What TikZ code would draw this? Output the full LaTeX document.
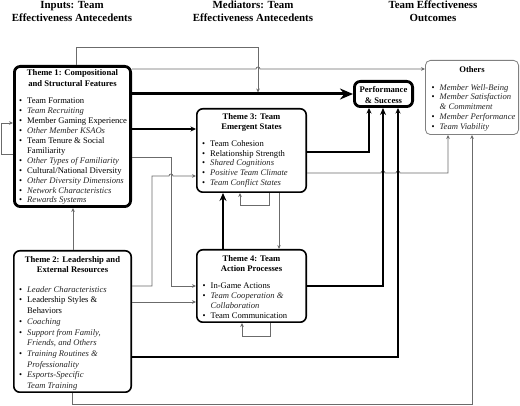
\documentclass[tikz,border=0pt]{standalone}
\usepackage{fontspec}
\setmainfont{Liberation Serif}
\usetikzlibrary{arrows.meta}
\newcommand{\bt}{\makebox[8pt][l]{\textbullet}}
\newcommand{\itx}[1]{\textcolor{black!85}{\itshape #1}}
\newcommand{\fsz}[2]{\fontsize{#1}{#2}\selectfont}
\begin{document}
\begin{tikzpicture}[x=1pt,y=-1pt,
  box/.style={draw, rounded corners=6pt, inner sep=0pt, line width=1.6pt},
  thickbox/.style={draw, rounded corners=6pt, inner sep=0pt, line width=2.8pt},
  obox/.style={draw=black!50, rounded corners=5pt, inner sep=0pt, line width=0.8pt},
  tx/.style={inner sep=0pt},
  gl/.style={draw=black!58, line width=0.8pt, -{Stealth[length=4pt,width=3.6pt]}},
  glt/.style={draw=black!58, line width=0.6pt, -{Stealth[length=4pt,width=3.4pt]}},
  bl/.style={draw=black, line width=1.3pt, -{Stealth[length=5.5pt,width=5pt]}},
  bm/.style={draw=black, line width=2pt, -{Stealth[length=7pt,width=6pt]}},
  bt4/.style={draw=black, line width=2.5pt, -{Stealth[length=8pt,width=7pt]}},
  bbig/.style={draw=black, line width=3pt, -{Stealth[length=13pt,width=11pt]}}
]
\useasboundingbox (0,0) rectangle (520,406);
\fill[white] (0,0) rectangle (520,406);

% headers
\node[tx, anchor=base, font=\fsz{10.9}{13}\bfseries] (h1) at (72,9) {\begin{tabular}[t]{@{}c@{}}Inputs: Team\\Effectiveness Antecedents\end{tabular}};
\node[tx, anchor=base, font=\fsz{10.9}{13}\bfseries] (h2) at (253,9) {\begin{tabular}[t]{@{}c@{}}Mediators: Team\\Effectiveness Antecedents\end{tabular}};
\node[tx, anchor=base, font=\fsz{10.9}{13}\bfseries] (h3) at (433,9) {\begin{tabular}[t]{@{}c@{}}Team Effectiveness\\Outcomes\end{tabular}};

% boxes
\node[thickbox, minimum width=116.2pt, minimum height=140.2pt] (t1) at (72.5,136.5) {};
\node[box, minimum width=117.4pt, minimum height=141.4pt] (t2) at (72.5,321.5) {};
\node[box, minimum width=109.4pt, minimum height=83.4pt] (t3) at (251.5,150.5) {};
\node[box, minimum width=109.4pt, minimum height=72.4pt] (t4) at (251.5,286) {};
\node[thickbox, minimum width=58.2pt, minimum height=25.2pt] (ps) at (383.5,94) {};
\node[obox, minimum width=93.2pt, minimum height=74.2pt] (ot) at (472,97.5) {};

% Theme 1 text
\node[tx, anchor=base, font=\fsz{8.6}{11}\bfseries] (t1h) at (72.5,76) {\begin{tabular}[t]{@{}c@{}}Theme 1: Compositional\\and Structural Features\end{tabular}};
\node[tx, anchor=base west, font=\fsz{8.6}{9.9}] (t1l) at (19,104) {\begin{tabular}[t]{@{}l@{}l@{}}
\bt&Team Formation\\
\bt&\itx{Team Recruiting}\\
\bt&Member Gaming Experience\\
\bt&\itx{Other Member KSAOs}\\
\bt&Team Tenure \& Social\\
&Familiarity\\
\bt&\itx{Other Types of Familiarity}\\
\bt&Cultural/National Diversity\\
\bt&\itx{Other Diversity Dimensions}\\
\bt&\itx{Network Characteristics}\\
\bt&\itx{Rewards Systems}
\end{tabular}};

% Theme 2 text
\node[tx, anchor=base, font=\fsz{8.6}{10.7}\bfseries] (t2h) at (72.5,262.3) {\begin{tabular}[t]{@{}c@{}}Theme 2: Leadership and\\External Resources\end{tabular}};
\node[tx, anchor=base west, font=\fsz{8.6}{10.7}] (t2l) at (19,292.3) {\begin{tabular}[t]{@{}l@{}l@{}}
\bt&\itx{Leader Characteristics}\\
\bt&Leadership Styles \&\\
&Behaviors\\
\bt&\itx{Coaching}\\
\bt&\itx{Support from Family,}\\
&\itx{Friends, and Others}\\
\bt&\itx{Training Routines \&}\\
&\itx{Professionality}\\
\bt&\itx{Esports-Specific}\\
&\itx{Team Training}
\end{tabular}};

% Theme 3 text
\node[tx, anchor=base, font=\fsz{8.6}{10}\bfseries] (t3h) at (251.5,119.7) {\begin{tabular}[t]{@{}c@{}}Theme 3: Team\\Emergent States\end{tabular}};
\node[tx, anchor=base west, font=\fsz{8.6}{9.85}] (t3l) at (202,146.3) {\begin{tabular}[t]{@{}l@{}l@{}}
\bt&Team Cohesion\\
\bt&Relationship Strength\\
\bt&\itx{Shared Cognitions}\\
\bt&\itx{Positive Team Climate}\\
\bt&\itx{Team Conflict States}
\end{tabular}};

% Theme 4 text
\node[tx, anchor=base, font=\fsz{8.6}{10}\bfseries] (t4h) at (251.5,262) {\begin{tabular}[t]{@{}c@{}}Theme 4: Team\\Action Processes\end{tabular}};
\node[tx, anchor=base west, font=\fsz{8.6}{9.8}] (t4l) at (202.5,288.7) {\begin{tabular}[t]{@{}l@{}l@{}}
\bt&In-Game Actions\\
\bt&\itx{Team Cooperation \&}\\
&\itx{Collaboration}\\
\bt&Team Communication
\end{tabular}};

% Performance text
\node[tx, anchor=base, font=\fsz{8.6}{10.5}\bfseries] (psh) at (383.5,93) {\begin{tabular}[t]{@{}c@{}}Performance\\\& Success\end{tabular}};

% Others text
\node[tx, anchor=base, font=\fsz{8.6}{10}\bfseries] (oth) at (472,73) {Others};
\node[tx, anchor=base west, font=\fsz{8.6}{9.7}] (otl) at (431.5,90.3) {\begin{tabular}[t]{@{}l@{}l@{}}
\bt&\itx{Member Well-Being}\\
\bt&\itx{Member Satisfaction}\\
&\itx{\& Commitment}\\
\bt&\itx{Member Performance}\\
\bt&\itx{Team Viability}
\end{tabular}};

\coordinate (m1) at (258,92.5);

% gray connectors
\draw[gl] (t1.north -| 76,0) |- (258,47) -- (m1);
\draw[gl] (t1.east |- 0,69) -- (256,69) arc[start angle=180,end angle=360,radius=2] -- (ot.west |- 0,69);
\draw[gl] (t1.east |- 0,157) -- (171,157) |- (t4.west |- 0,286);
\draw[gl] (t2.east |- 0,286) -- (152,286) |- (169,176) arc[start angle=180,end angle=360,radius=2] -- (t3.west |- 0,176);
\draw[gl] (t2.east |- 0,302) -- (t4.west |- 0,302);
\draw[gl] (t2.south) |- (472,404.5) -- (ot.south -| 472,0);
\draw[gl] (t2.north -| 73,0) -- (t1.south -| 73,0);
\draw[gl] (t3.east |- 0,173) -- (381,173) arc[start angle=180,end angle=360,radius=2] -- (396,173) arc[start angle=180,end angle=360,radius=2] -- (448,173) -- (ot.south -| 448,0);
\draw[glt] (t3.south -| 279,0) -- (t4.north -| 279,0);
\draw[gl] (t3.south -| 269,0) -- (269,205) -| (t3.south -| 240,0);
\draw[gl] (t4.south -| 270,0) -- (270,336) -| (t4.south -| 242,0);
\draw[gl] (t1.west |- 0,154) -- (1,154) |- (t1.west |- 0,123);

% black connectors
\draw[bbig] (t1.east |- 0,94) -- (ps.west);
\draw[bl] (t1.east |- 0,129) -- (t3.west |- 0,129);
\draw[bl] (t2.east |- 0,357) -| (ps.south -| 398,0);
\draw[bm] (t4.east |- 0,286) -| (ps.south -| 383,0);
\draw[bl] (t3.east |- 0,152) -| (ps.south -| 369,0);
\draw[bt4] (t4.north -| 223,0) -- (t3.south -| 223,0);
\end{tikzpicture}
\end{document}
